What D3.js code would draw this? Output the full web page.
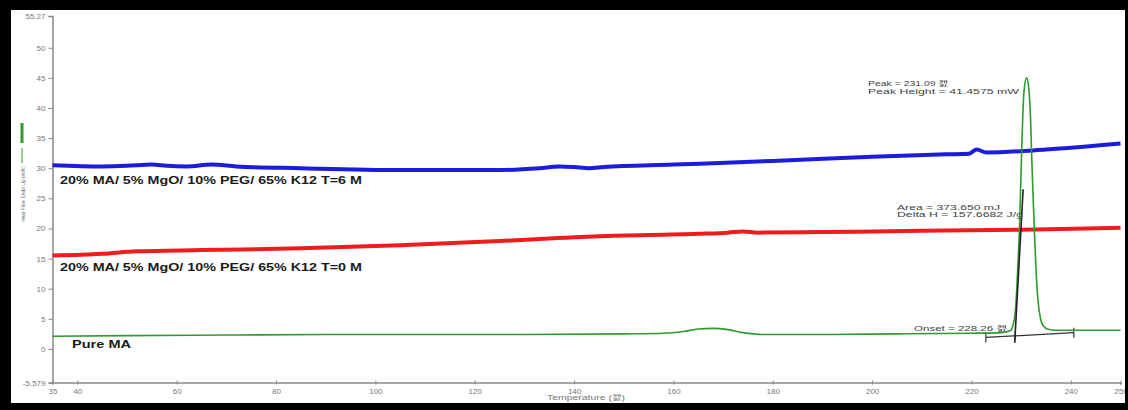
<!DOCTYPE html>
<html><head><meta charset="utf-8">
<script src="https://cdn.jsdelivr.net/npm/d3@7"></script>
<style>html,body{margin:0;padding:0;background:#fff;}svg{display:block;}</style>
</head><body>
<svg id="c" width="1128" height="410"></svg>
<script>
// ---- data ----
const xTicks = [35, 40, 60, 80, 100, 120, 140, 160, 180, 200, 220, 240, 250];
const yTicks = [-5.579, 0, 5, 10, 15, 20, 25, 30, 35, 40, 45, 50, 55.27];

const blueT = [35, 45, 50, 55, 58, 62, 67, 72, 85, 105, 125, 133, 137, 140, 143, 146, 160, 180, 200, 215, 219.5, 221, 223, 235, 250];
const blueV = [30.5, 30.3, 30.4, 30.6, 30.4, 30.3, 30.6, 30.3, 30.0, 29.7, 29.7, 30.0, 30.3, 30.2, 30.0, 30.2, 30.6, 31.2, 31.9, 32.3, 32.4, 33.1, 32.6, 33.1, 34.1];

const redT = [35, 45, 52, 65, 85, 105, 125, 145, 165, 171, 174, 177, 190, 210, 230, 250];
const redV = [15.5, 15.8, 16.2, 16.4, 16.7, 17.2, 17.9, 18.7, 19.1, 19.3, 19.5, 19.3, 19.4, 19.6, 19.8, 20.1];

const greenT = [35, 50, 70, 90, 110, 130, 150, 158, 162, 165, 168, 171, 174, 178, 190, 205, 220, 226, 227.8, 228.4, 228.9, 229.3, 229.7, 230.0, 230.3, 230.6, 231.09, 231.5, 231.9, 232.2, 232.6, 233.0, 233.4, 233.9, 234.5, 235.3, 237, 250];
const greenV = [2.1, 2.2, 2.3, 2.4, 2.4, 2.4, 2.5, 2.6, 2.9, 3.3, 3.4, 3.2, 2.7, 2.4, 2.4, 2.5, 2.6, 2.7, 3.0, 4.0, 7, 13, 21, 30, 38, 43, 45.0, 43.5, 38, 30, 21, 13, 8, 5, 3.8, 3.3, 3.1, 3.1];

// analysis construction (onset tangent & baseline)
const tangentT = [228.7, 230.4];
const tangentV = [1.0, 26.5];
const baseT = [222.9, 240.6];
const baseV = [1.9, 2.7];
const baseTickT = [222.9, 228.8, 240.6];

const seriesLabels = ["20% MA/ 5% MgO/ 10% PEG/ 65% K12 T=6 M", "20% MA/ 5% MgO/ 10% PEG/ 65% K12 T=0 M", "Pure MA"];
const peakTexts = ["Peak = 231.09 캜", "Peak Height = 41.4575 mW"];
const areaTexts = ["Area = 373.650 mJ", "Delta H = 157.6682 J/g"];
const onsetText = "Onset = 228.26 캜";
const xTitle = "Temperature (캜)";
const yTitle = "Heat Flow Endo Up (mW)";

// ---- drawing ----
const svg = d3.select("#c");
const FONT = "'Liberation Sans', Arial, 'Noto Sans CJK KR', sans-serif";
const x = d3.scaleLinear().domain([35, 250]).range([52.5, 1120.5]);
const y = d3.scaleLinear().domain([-5.579, 55.27]).range([382.5, 16]);

svg.append("rect").attr("width", 1128).attr("height", 410).attr("fill", "#fff");

// axes
const xa = svg.append("g").attr("transform", "translate(0,382.5)")
  .call(d3.axisBottom(x).tickValues(xTicks).tickSize(2).tickPadding(4).tickFormat(d => String(d)));
xa.select(".domain").attr("stroke", "#8a8a8a").attr("stroke-width", 1.5);
xa.selectAll(".tick line").attr("stroke", "#888").attr("y1", -2).attr("y2", 2);
xa.selectAll(".tick text").attr("fill", "#777").style("font", "8px " + FONT);

const ya = svg.append("g").attr("transform", "translate(52.5,0)")
  .call(d3.axisLeft(y).tickValues(yTicks).tickSize(4).tickPadding(3).tickFormat(d => String(d)));
ya.select(".domain").attr("stroke", "#8a8a8a").attr("stroke-width", 1.5);
ya.selectAll(".tick line").attr("stroke", "#888");
ya.selectAll(".tick text").attr("fill", "#777").style("font", "8px " + FONT);

// titles
svg.append("text").attr("x", 547).attr("y", 400).attr("textLength", 78).attr("lengthAdjust", "spacingAndGlyphs")
  .attr("fill", "#777").style("font", "7px " + FONT).text(xTitle);
svg.append("text").attr("transform", "translate(24.5,222) rotate(-90)").attr("textLength", 56).attr("lengthAdjust", "spacingAndGlyphs")
  .attr("fill", "#666").style("font", "6px " + FONT).text(yTitle);
svg.append("rect").attr("x", 20.5).attr("y", 123).attr("width", 3).attr("height", 20).attr("fill", "#2e9b2e");
svg.append("line").attr("x1", 22).attr("x2", 22).attr("y1", 148).attr("y2", 163).attr("stroke", "#2e9b2e").attr("stroke-width", 1);

// lines
const line = d3.line().x(d => x(d[0])).y(d => y(d[1])).curve(d3.curveMonotoneX);
const zip = (a, b) => a.map((t, i) => [t, b[i]]);
svg.append("path").datum(zip(redT, redV)).attr("d", line).attr("fill", "none").attr("stroke", "#ee1c1c").attr("stroke-width", 4);
svg.append("path").datum(zip(blueT, blueV)).attr("d", line).attr("fill", "none").attr("stroke", "#1c1cdc").attr("stroke-width", 4);

// analysis construction
const straight = d3.line().x(d => x(d[0])).y(d => y(d[1]));
svg.append("path").datum(zip(baseT, baseV)).attr("d", straight).attr("fill", "none").attr("stroke", "#333").attr("stroke-width", 1.2);
const baseScale = d3.scaleLinear().domain(baseT).range(baseV);
svg.selectAll(".btick").data(baseTickT).join("line")
  .attr("x1", d => x(d)).attr("x2", d => x(d))
  .attr("y1", d => y(baseScale(d)) - 5).attr("y2", d => y(baseScale(d)) + 5)
  .attr("stroke", "#333").attr("stroke-width", 1.2);

svg.append("path").datum(zip(greenT, greenV)).attr("d", line).attr("fill", "none").attr("stroke", "#2e9b2e").attr("stroke-width", 1.6);
svg.append("path").datum(zip(tangentT, tangentV)).attr("d", straight).attr("fill", "none").attr("stroke", "#222").attr("stroke-width", 1.6);

// series labels
const labelPos = [[60, 184, 302], [60, 271, 302], [72, 348, 59]];
seriesLabels.forEach((s, i) => {
  svg.append("text").attr("x", labelPos[i][0]).attr("y", labelPos[i][1])
    .attr("textLength", labelPos[i][2]).attr("lengthAdjust", "spacingAndGlyphs")
    .attr("fill", "#1a1a1a").style("font", "bold 10px " + FONT).text(s);
});

// annotations
const ann = (t, xx, yy, len) => svg.append("text").attr("x", xx).attr("y", yy)
  .attr("textLength", len).attr("lengthAdjust", "spacingAndGlyphs")
  .attr("fill", "#444").style("font", "7px " + FONT).text(t);
ann(peakTexts[0], 868, 86, 80);
ann(peakTexts[1], 868, 93.5, 151);
ann(areaTexts[0], 897, 209.5, 103);
ann(areaTexts[1], 897, 217, 126);
ann(onsetText, 914, 331, 93);

// frame
svg.append("rect").attr("x", 0).attr("y", 0).attr("width", 1128).attr("height", 10).attr("fill", "#000");
svg.append("rect").attr("x", 0).attr("y", 403).attr("width", 1128).attr("height", 7).attr("fill", "#000");
svg.append("rect").attr("x", 0).attr("y", 0).attr("width", 11).attr("height", 410).attr("fill", "#000");
svg.append("rect").attr("x", 1125).attr("y", 0).attr("width", 3).attr("height", 410).attr("fill", "#000");
</script>
</body></html>
